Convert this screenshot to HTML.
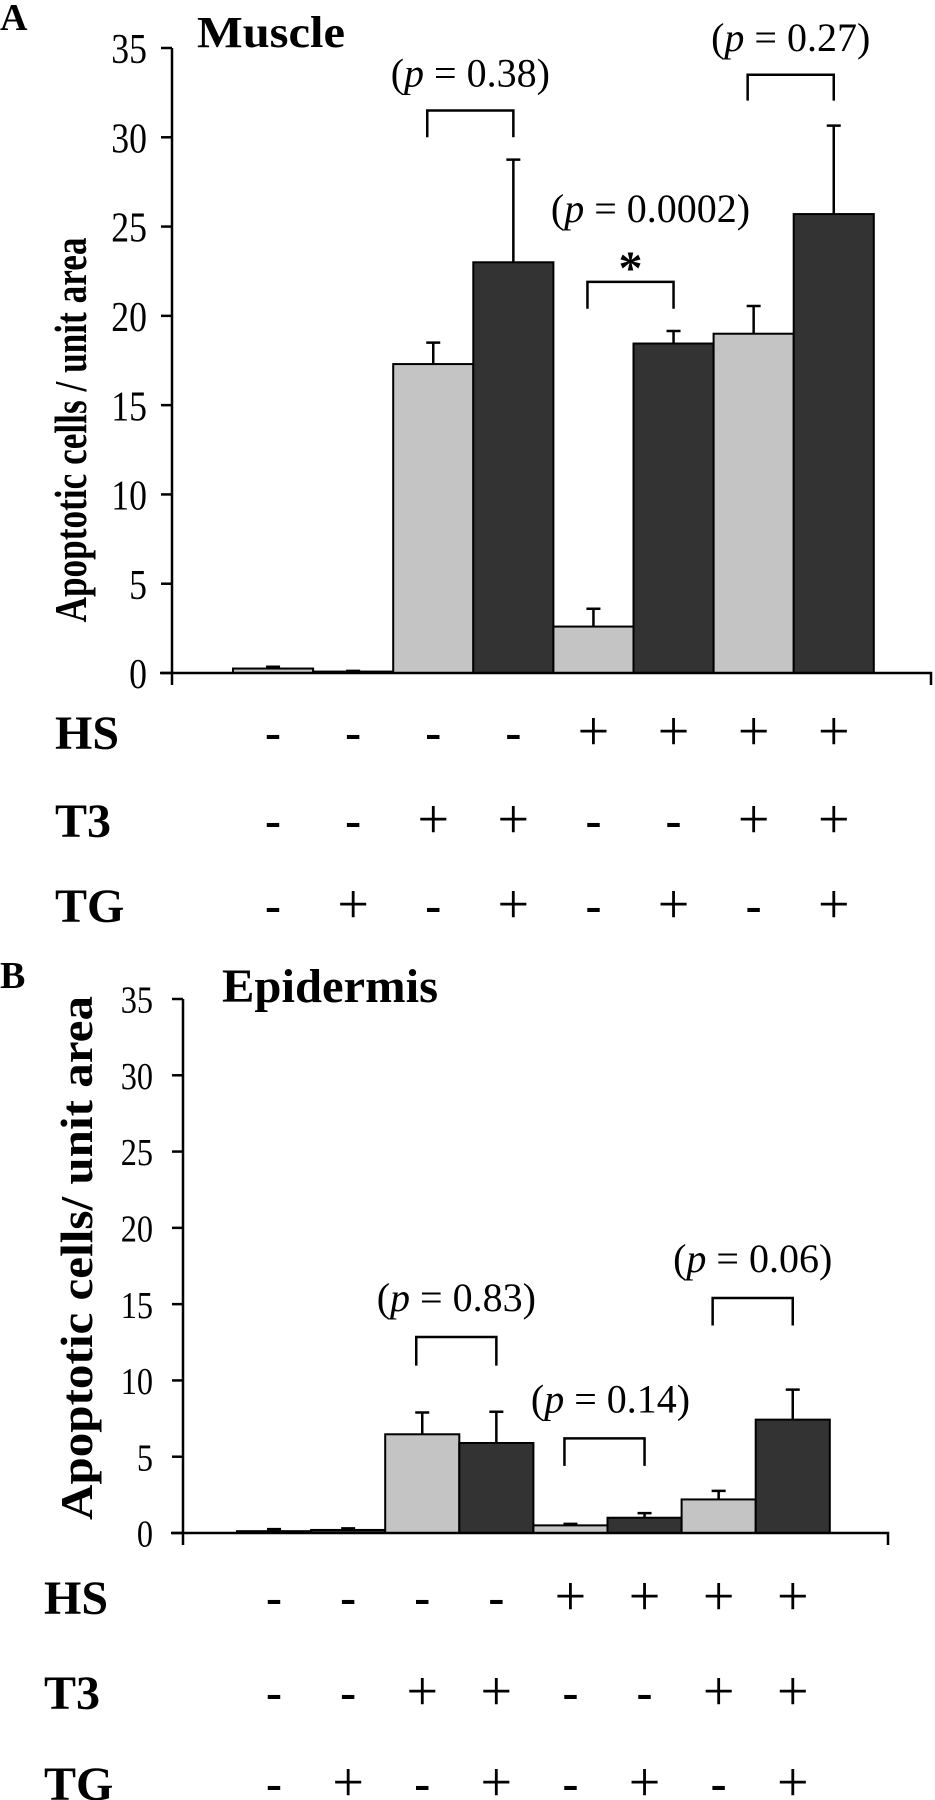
<!DOCTYPE html>
<html><head><meta charset="utf-8">
<style>
html,body{margin:0;padding:0;background:#fff;}
svg{display:block;font-family:"Liberation Serif",serif;}
</style></head>
<body>
<svg id="fig" width="935" height="1800" viewBox="0 0 935 1800" xmlns="http://www.w3.org/2000/svg">
<text x="0" y="30" font-size="38" font-weight="bold">A</text>
<text x="197" y="47" font-size="44" font-weight="bold" textLength="148" lengthAdjust="spacingAndGlyphs">Muscle</text>
<text x="0" y="988" font-size="38" font-weight="bold">B</text>
<text x="222" y="1002" font-size="48" font-weight="bold" textLength="216" lengthAdjust="spacingAndGlyphs">Epidermis</text>
<text transform="translate(86,430) rotate(-90)" text-anchor="middle" font-size="46" font-weight="bold" textLength="385" lengthAdjust="spacingAndGlyphs">Apoptotic cells / unit area</text>
<text transform="translate(92,1258) rotate(-90)" text-anchor="middle" font-size="46" font-weight="bold" textLength="524" lengthAdjust="spacingAndGlyphs">Apoptotic cells/ unit area</text>
<g id="chartA"></g>
<g id="chartB"></g>
</svg>
<script>
const yTicks = [0,5,10,15,20,25,30,35];
const conditionRows = ["HS","T3","TG"];
const hsSigns = ["-","-","-","-","+","+","+","+"];
const t3Signs = ["-","-","+","+","-","-","+","+"];
const tgSigns = ["-","+","-","+","-","+","-","+"];
const barShades = ["light","dark","light","dark","light","dark","light","dark"];

const muscleValues = [0.25,0.08,17.3,23.0,2.6,18.45,19.0,25.7];
const muscleErrTop = [0.35,0.12,18.5,28.75,3.6,19.15,20.55,30.65];
const musclePairs = [[2,3],[4,5],[6,7]];
const muscleBracketTop = [31.5,21.9,33.5];
const muscleBracketBottom = [30.0,20.4,32.05];
const musclePLabels = ["0.38","0.0002","0.27"];
const muscleStars = ["","*",""];

const epiValues = [0.12,0.2,6.47,5.9,0.5,1.0,2.2,7.43];
const epiErrTop = [0.25,0.3,7.9,7.95,0.6,1.3,2.76,9.4];
const epiPairs = [[2,3],[4,5],[6,7]];
const epiBracketTop = [12.85,6.2,15.4];
const epiBracketBottom = [10.97,4.4,13.6];
const epiPLabels = ["0.83","0.14","0.06"];
const epiStars = ["","",""];

const NS = "http://www.w3.org/2000/svg";
function mk(tag, attrs, parent){
  const el = document.createElementNS(NS, tag);
  for (const k in attrs) el.setAttribute(k, attrs[k]);
  parent.appendChild(el);
  return el;
}

function drawPanel(g, cfg, values, errTop, pairs, bTop, bBot, pLabels, stars){
  const y = v => cfg.zero - v * (cfg.zero - cfg.top) / 35;
  const xL = i => cfg.barStart + i * cfg.pitch;
  const xC = i => xL(i) + cfg.pitch / 2;
  values.forEach((v, i) => {
    const r = mk('rect', {x: xL(i), y: y(v), width: cfg.pitch, height: Math.max(cfg.zero - y(v), 0.5),
      fill: barShades[i] === 'light' ? '#c4c4c4' : '#333333', stroke: '#000', 'stroke-width': 2}, g);
    
    
    const e = mk('path', {d: `M${xC(i)},${y(v)}V${y(errTop[i])}M${xC(i)-7},${y(errTop[i])}H${xC(i)+7}`, stroke: '#000', 'stroke-width': 2.5, fill: 'none'}, g);
    
    
  });
  const ax = mk('path', {d: `M${cfg.axisX},${cfg.top}V${cfg.zero + 12}M${cfg.axisX - 12},${cfg.zero}H${cfg.axisEnd}V${cfg.zero + 12}`, stroke: '#000', 'stroke-width': 2.5, fill: 'none'}, g);
  
  
  yTicks.forEach(t => {
    const tk = mk('line', {x1: cfg.axisX - 11, x2: cfg.axisX, y1: y(t), y2: y(t), stroke: '#000', 'stroke-width': 2.5}, g);
    
    
    const tl = mk('text', {x: cfg.tickRight, y: y(t) + cfg.tickFont * 0.36, 'text-anchor': 'end', 'font-size': cfg.tickFont,
      transform: `translate(${cfg.tickRight},0) scale(0.85,1) translate(${-cfg.tickRight},0)`}, g);
    tl.textContent = t;
    
    
  });
  pairs.forEach((p, k) => {
    const x1 = xC(p[0]) - 6, x2 = xC(p[1]);
    const b = mk('path', {d: `M${x1},${y(bBot[k])}V${y(bTop[k])}H${x2}V${y(bBot[k])}`, stroke: '#000', 'stroke-width': 2.5, fill: 'none'}, g);
    
    
    const cx = (x1 + x2) / 2 + cfg.pOffset[k];
    const t = mk('text', {x: cx, y: y(bTop[k]) - cfg.pGap[k], 'text-anchor': 'middle', 'font-size': cfg.pFont}, g);
    t.innerHTML = '(<tspan font-style="italic">p</tspan> = ' + pLabels[k] + ')';
    
    
    if (stars[k]) {
      const s = mk('text', {x: (x1 + x2) / 2, y: y(bTop[k]) + 2, 'text-anchor': 'middle', 'font-size': 48, 'font-weight': 'bold'}, g);
      s.textContent = stars[k];
      
      
    }
  });
  const signSets = [hsSigns, t3Signs, tgSigns];
  conditionRows.forEach((name, r) => {
    const ry = cfg.rowY[r];
    const lab = mk('text', {x: cfg.rowLabelX, y: ry + 17, 'font-size': 48, 'font-weight': 'bold'}, g);
    lab.textContent = name;
    
    
    signSets[r].forEach((s, i) => {
      const plus = s === '+';
      const st = mk('text', {x: xC(i), y: ry + (plus ? 18 : 16), 'text-anchor': 'middle', 'font-size': plus ? 56 : 48, 'font-weight': plus ? 'normal' : 'bold'}, g);
      st.textContent = s;
      
      
    });
  });
}

drawPanel(document.getElementById('chartA'),
  {zero: 673, top: 48, axisX: 172, axisEnd: 931, barStart: 233, pitch: 80.1, tickRight: 147, tickFont: 42,
   pFont: 40, pOffset: [0, 20, 0], pGap: [24, 60, 24], rowY: [732, 820, 905], rowLabelX: 55},
  muscleValues, muscleErrTop, musclePairs, muscleBracketTop, muscleBracketBottom, musclePLabels, muscleStars);

drawPanel(document.getElementById('chartB'),
  {zero: 1533, top: 999, axisX: 183, axisEnd: 888, barStart: 237, pitch: 74.1, tickRight: 153, tickFont: 38,
   pFont: 40, pOffset: [0, 6, 0], pGap: [26, 26, 26], rowY: [1597, 1692, 1783], rowLabelX: 44},
  epiValues, epiErrTop, epiPairs, epiBracketTop, epiBracketBottom, epiPLabels, epiStars);
</script>
</body></html>
